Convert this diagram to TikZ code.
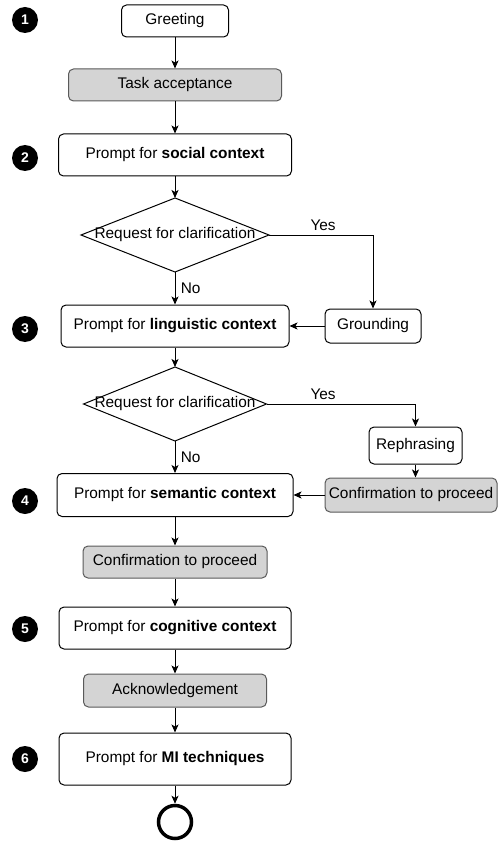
\documentclass[tikz,border=0pt]{standalone}
\usepackage{fontspec}
\setmainfont{Liberation Sans}
\usetikzlibrary{arrows.meta,shapes.geometric}
\definecolor{StepGray}{HTML}{D4D4D4}
\definecolor{StepEdge}{HTML}{5A5A5A}

\tikzset{
  flow/.style={-{Stealth[length=8pt,width=7pt,inset=2pt]},line width=1pt},
  stepbox/.style={draw,rounded corners=5pt,line width=1pt,fill=white,inner sep=0pt},
  greybox/.style={stepbox,fill=StepGray,draw=StepEdge},
  decision/.style={diamond,draw,line width=1pt,inner sep=0pt,outer sep=0pt,minimum width=188pt,minimum height=74pt},
  badge/.style={circle,fill=black,text=white,inner sep=0pt,minimum size=26pt,font=\fontsize{14}{14}\selectfont\bfseries},
  endstate/.style={circle,draw,line width=3.5pt,minimum size=33pt},
}

\begin{document}
\begin{tikzpicture}[x=1pt,y=-1pt,font=\fontsize{15.4}{18}\selectfont]
\useasboundingbox (0,0) rectangle (498,842);

% main column
\node[stepbox,minimum width=107pt,minimum height=32pt] (greet) at (175,21) {Greeting};
\node[greybox,minimum width=213pt,minimum height=32pt] (accept) at (175,85) {Task acceptance};
\node[stepbox,minimum width=233pt,minimum height=42pt] (social) at (175,155) {Prompt for \textbf{social context}};
\node[decision] (ask1) at (175,235) {};
\node (ask1txt) at (ask1) {Request for clarification};
\node[stepbox,minimum width=228pt,minimum height=42pt] (ling) at (175,326) {Prompt for \textbf{linguistic context}};
\node[decision,minimum width=183pt] (ask2) at (175,404) {};
\node (ask2txt) at (ask2) {Request for clarification};
\node[stepbox,minimum width=236pt,minimum height=43pt] (sem) at (175,495) {Prompt for \textbf{semantic context}};
\node[greybox,minimum width=184pt,minimum height=32pt] (confirm) at (175,562) {Confirmation to proceed};
\node[stepbox,minimum width=232pt,minimum height=42pt] (cogn) at (175,628) {Prompt for \textbf{cognitive context}};
\node[greybox,minimum width=183pt,minimum height=33pt] (ack) at (175,690.5) {Acknowledgement};
\node[stepbox,minimum width=232pt,minimum height=52pt] (mi) at (175,759) {Prompt for \textbf{MI techniques}};
\node[endstate] (stop) at (175,822) {};

% side branch
\node[stepbox,minimum width=96pt,minimum height=34pt] (ground) at (373,326) {Grounding};
\node[stepbox,minimum width=93pt,minimum height=37pt] (rephr) at (415.5,445.5) {Rephrasing};
\node[greybox,minimum width=172pt,minimum height=34pt] (confirm2) at (411,495) {Confirmation to proceed};

% stage numbers
\foreach \n/\y in {1/20,2/158,3/329,4/501,5/629,6/759}
  \node[badge] (b\n) at (25,\y) {\n};

% connectors
\draw[flow] (greet) -- (accept);
\draw[flow] (accept) -- (social);
\draw[flow] (social) -- (ask1.north);
\draw[flow] (ask1.south) -- node[right,xshift=2pt] (no1) {No} (ling);
\draw[flow] (ask1.east) -| node[above,pos=0.26,yshift=1pt] (yes1) {Yes} (ground.north);
\draw[flow] (ground) -- (ling);
\draw[flow] (ling) -- (ask2.north);
\draw[flow] (ask2.south) -- node[right,xshift=2pt] (no2) {No} (sem);
\draw[flow] (ask2.east) -| node[above,pos=0.19,yshift=1pt] (yes2) {Yes} (rephr.north);
\draw[flow] (rephr.south) -- (rephr.south |- confirm2.north);
\draw[flow] (confirm2) -- (sem);
\draw[flow] (sem) -- (confirm);
\draw[flow] (confirm) -- (cogn);
\draw[flow] (cogn) -- (ack);
\draw[flow] (ack) -- (mi);
\draw[flow] (mi) -- (stop);
\end{tikzpicture}
\end{document}
